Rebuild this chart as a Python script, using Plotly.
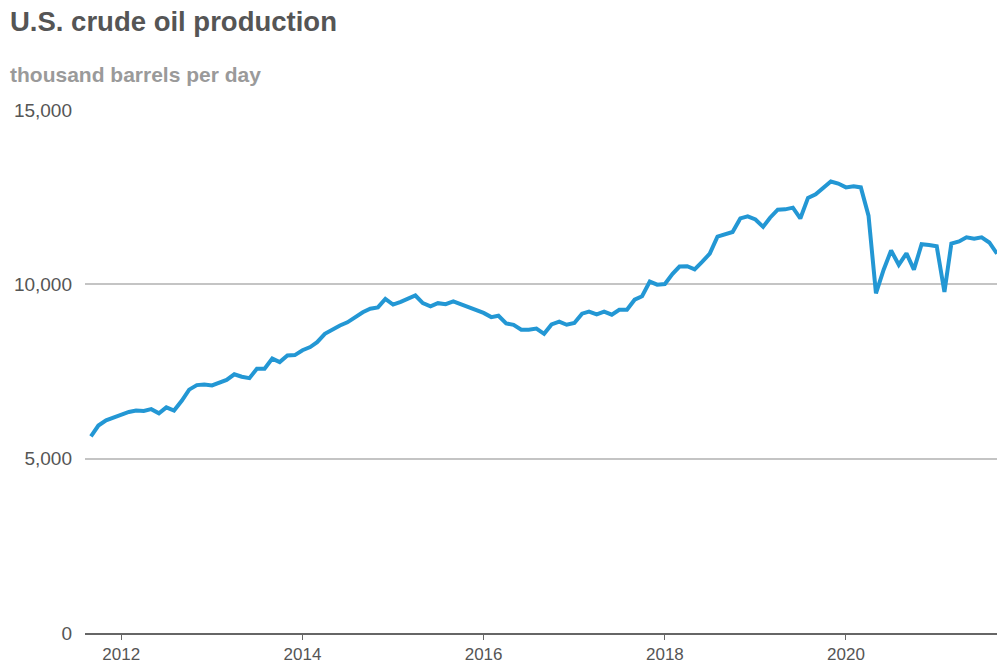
import plotly.graph_objects as go
import pandas as pd

# Monthly U.S. crude oil production, thousand barrels per day (Sep 2011 - Sep 2021)
months = pd.date_range("2011-09-01", "2021-09-01", freq="MS")
production = [
    5640, 5950, 6100, 6180,
    6260, 6340, 6380, 6370, 6420, 6300, 6470, 6380, 6660, 6980, 7110, 7130,
    7100, 7180, 7260, 7420, 7350, 7310, 7580, 7580, 7870, 7770, 7960, 7970,
    8110, 8200, 8340, 8580, 8710, 8820, 8910, 9050, 9200, 9300, 9340, 9580,
    9420, 9500, 9600, 9680, 9460, 9370, 9460, 9430, 9510, 9430, 9340, 9280,
    9180, 9060, 9100, 8880, 8840, 8700, 8700, 8730, 8580, 8850, 8930, 8840,
    8890, 9160, 9220, 9140, 9220, 9130, 9270, 9270, 9560, 9660, 10080, 9990,
    10010, 10300, 10510, 10520, 10430, 10650, 10880, 11370, 11430, 11500, 11890, 11950,
    11860, 11650, 11910, 12140, 12150, 12200, 11890, 12480, 12580, 12780, 12950, 12890,
    12780, 12810, 12780, 11970, 9740, 10420, 10970, 10560, 10890, 10420, 11150, 11130,
    11090, 9780, 11170, 11230, 11350, 11310, 11350, 11200, 10880,
]
y_ticks = [0, 5000, 10000, 15000]
y_tick_labels = ["0", "5,000", "10,000", "15,000"]
x_ticks = ["2012-01-01", "2014-01-01", "2016-01-01", "2018-01-01", "2020-01-01"]
x_tick_labels = ["2012", "2014", "2016", "2018", "2020"]

title_text = "U.S. crude oil production"
subtitle_text = "thousand barrels per day"

FONT = "Liberation Sans, Arial, sans-serif"

W, H = 997, 664
ML, MT, MB = 85, 110, 31
plot_w = W - ML
plot_h = H - MT - MB

def px_to_paper_x(px):
    return (px - ML) / plot_w

def px_to_paper_y(py):
    return (H - MB - py) / plot_h

fig = go.Figure()
fig.add_trace(go.Scatter(
    x=months, y=production, mode="lines",
    line=dict(color="#2397d4", width=4),
    hoverinfo="skip",
))

fig.update_layout(
    width=W, height=H,
    margin=dict(l=ML, r=0, t=MT, b=MB, autoexpand=False),
    paper_bgcolor="white", plot_bgcolor="white",
    showlegend=False,
    font=dict(family=FONT, color="#555555", size=19),
    xaxis=dict(
        range=["2011-08-08", "2021-09-01"],
        tickmode="array", tickvals=x_ticks, ticktext=x_tick_labels,
        ticks="outside", ticklen=5, tickwidth=1, tickcolor="#666666",
        showgrid=False, zeroline=False,
        showline=True, linecolor="#666666", linewidth=2,
        tickfont=dict(family=FONT, size=17, color="#555555"),
    ),
    yaxis=dict(
        range=[0, 15000],
        tickmode="array", tickvals=y_ticks, ticktext=y_tick_labels,
        showgrid=True, gridcolor="#c4c4c4", gridwidth=1.5,
        zeroline=False, showline=False,
        ticks="", ticklabelstandoff=12,
        tickfont=dict(family=FONT, size=19, color="#555555"),
    ),
    annotations=[
        dict(text="<b>" + title_text + "</b>", xref="paper", yref="paper",
             x=px_to_paper_x(8), y=px_to_paper_y(22), xanchor="left", yanchor="middle",
             showarrow=False, font=dict(family=FONT, size=27.5, color="#555555")),
        dict(text="<b>" + subtitle_text + "</b>", xref="paper", yref="paper",
             x=px_to_paper_x(8), y=px_to_paper_y(75), xanchor="left", yanchor="middle",
             showarrow=False, font=dict(family=FONT, size=21, color="#9a9a9a")),
    ],
)

# remove the default page margin so the figure fills the window exactly
fig.write_html("out.html",
               config={"displayModeBar": False},
               post_script="document.body.style.margin='0';document.body.style.overflow='hidden';")
